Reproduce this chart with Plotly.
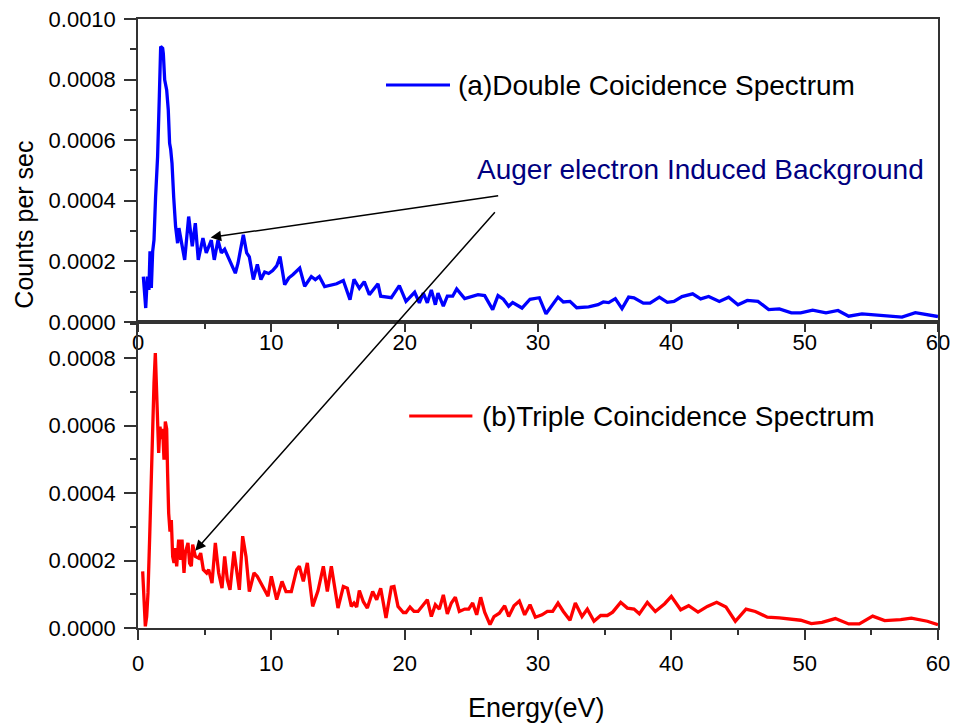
import plotly.graph_objects as go

# ---- data ----
energy_double = [0.40, 0.58, 0.70, 0.82, 0.90, 1.00, 1.10, 1.20, 1.32, 1.47, 1.60, 1.70, 1.85, 1.90,
                 2.00, 2.15, 2.27, 2.37, 2.45, 2.55, 2.68, 2.82, 2.97, 3.07, 3.17, 3.27, 3.50, 3.80,
                 3.92, 4.07, 4.30, 4.52, 4.87, 5.12, 5.50, 5.72, 6.00, 6.25, 6.50, 7.00, 7.30, 7.50,
                 7.90, 8.15, 8.35, 8.65, 8.95, 9.22, 9.50, 9.80, 10.10, 10.40, 10.65, 11.00, 11.30,
                 11.63, 12.13, 12.50, 13.00, 13.30, 13.60, 14.00, 14.30, 14.60, 14.90, 15.40, 15.90,
                 16.20, 16.60, 16.97, 17.35, 18.00, 18.20, 19.00, 19.60, 20.10, 20.75, 21.10, 21.40,
                 21.70, 22.00, 22.30, 22.50, 22.90, 23.20, 23.60, 23.90, 24.50, 25.50, 26.00, 26.60,
                 27.00, 27.40, 27.80, 28.10, 28.80, 29.40, 30.10, 30.60, 31.50, 31.90, 32.40, 32.90,
                 33.80, 34.50, 34.90, 35.30, 35.80, 36.30, 36.80, 37.20, 37.90, 38.40, 39.10, 39.70,
                 40.20, 40.80, 41.60, 42.20, 42.80, 43.60, 44.30, 45.00, 45.70, 46.50, 47.30, 48.10,
                 49.00, 49.70, 50.60, 51.60, 52.50, 53.30, 54.30, 56.10, 57.30, 58.30, 59.80, 60.00]
counts_double = [0.000150, 0.000046, 0.000150, 0.000106, 0.000233, 0.000112, 0.000233, 0.000271,
                 0.000414, 0.000546, 0.000744, 0.000909, 0.000903, 0.000886, 0.000799, 0.000766,
                 0.000700, 0.000590, 0.000570, 0.000524, 0.000410, 0.000315, 0.000260, 0.000310,
                 0.000285, 0.000260, 0.000205, 0.000348, 0.000305, 0.000250, 0.000326, 0.000205,
                 0.000277, 0.000228, 0.000270, 0.000205, 0.000270, 0.000228, 0.000240, 0.000194,
                 0.000161, 0.000194, 0.000288, 0.000228, 0.000215, 0.000140, 0.000190, 0.000140,
                 0.000165, 0.000160, 0.000170, 0.000185, 0.000216, 0.000123, 0.000145, 0.000157,
                 0.000178, 0.000118, 0.000150, 0.000140, 0.000150, 0.000117, 0.000120, 0.000122,
                 0.000126, 0.000137, 0.0000735, 0.000141, 0.000111, 0.000133, 0.000090, 0.000126,
                 0.000085, 0.000080, 0.000120, 0.000068, 0.000098, 0.000063, 0.000095, 0.000063,
                 0.000106, 0.000057, 0.000095, 0.000052, 0.000085, 0.000085, 0.000109, 0.000077,
                 0.000090, 0.000087, 0.000041, 0.000087, 0.000075, 0.000052, 0.000064, 0.000046,
                 0.000075, 0.000080, 0.000027, 0.000082, 0.000066, 0.000068, 0.000047, 0.000050,
                 0.000057, 0.000066, 0.000064, 0.000077, 0.000044, 0.000082, 0.000080, 0.000062,
                 0.000062, 0.000082, 0.000065, 0.000068, 0.000084, 0.000093, 0.000076, 0.000084,
                 0.000068, 0.000082, 0.000057, 0.000071, 0.000068, 0.000041, 0.000043, 0.000030,
                 0.000030, 0.000039, 0.000030, 0.000038, 0.000019, 0.000027, 0.000020, 0.000016,
                 0.000031, 0.000020, 0.000018]

energy_triple = [0.35, 0.40, 0.55, 0.65, 0.75, 0.87, 0.97, 1.10, 1.20, 1.30, 1.40, 1.45, 1.55, 1.65,
                 1.75, 1.85, 1.95, 2.05, 2.15, 2.22, 2.30, 2.40, 2.50, 2.60, 2.70, 2.80, 2.90, 3.05,
                 3.20, 3.30, 3.45, 3.55, 3.75, 3.87, 4.00, 4.10, 4.30, 4.55, 4.70, 4.90, 5.15, 5.30,
                 5.55, 5.80, 6.05, 6.30, 6.50, 6.70, 6.90, 7.20, 7.45, 7.60, 7.85, 8.10, 8.35, 8.70,
                 8.95, 9.35, 9.75, 10.00, 10.40, 10.80, 11.10, 11.50, 11.90, 12.10, 12.40, 12.70,
                 13.10, 13.50, 13.90, 14.20, 14.50, 15.00, 15.40, 15.70, 16.00, 16.20, 16.40, 16.60,
                 16.90, 17.20, 17.60, 17.90, 18.20, 18.60, 19.00, 19.20, 19.50, 19.90, 20.10, 20.40,
                 20.70, 21.00, 21.40, 21.70, 22.00, 22.30, 22.60, 22.90, 23.20, 23.50, 23.80, 24.10,
                 24.50, 24.80, 25.10, 25.40, 25.70, 26.00, 26.40, 26.70, 27.10, 27.50, 27.80, 28.20,
                 28.60, 29.00, 29.40, 29.80, 30.30, 30.70, 31.10, 31.50, 31.90, 32.40, 32.80, 33.30,
                 33.70, 34.20, 34.70, 35.20, 35.60, 36.20, 36.70, 37.20, 37.60, 38.20, 38.80, 39.50,
                 40.00, 40.70, 41.30, 42.00, 42.70, 43.40, 44.10, 44.80, 45.60, 46.30, 47.20, 48.10,
                 49.70, 50.50, 51.30, 52.30, 53.30, 54.10, 55.10, 56.00, 57.20, 58.00, 59.20, 60.00]
counts_triple = [0.000168, 0.000133, 0.000005, 0.000034, 0.000104, 0.000262, 0.000430, 0.000607,
                 0.000726, 0.000815, 0.000706, 0.000627, 0.000519, 0.000597, 0.000560, 0.000590,
                 0.000499, 0.000612, 0.000590, 0.000459, 0.000340, 0.000286, 0.000320, 0.000212,
                 0.000193, 0.000237, 0.000183, 0.000262, 0.000202, 0.000262, 0.000163, 0.000222,
                 0.000252, 0.000192, 0.000183, 0.000247, 0.000212, 0.000207, 0.000222, 0.000173,
                 0.000163, 0.000173, 0.000133, 0.000252, 0.000163, 0.000118, 0.000212, 0.000143,
                 0.000113, 0.000227, 0.000143, 0.000113, 0.000272, 0.000212, 0.000108, 0.000163,
                 0.000153, 0.000123, 0.000094, 0.000153, 0.000084, 0.000138, 0.000108, 0.000108,
                 0.000173, 0.000183, 0.000138, 0.000193, 0.000064, 0.000110, 0.000183, 0.000108,
                 0.000183, 0.000059, 0.000123, 0.000118, 0.000064, 0.000074, 0.000062, 0.000111,
                 0.000078, 0.000059, 0.000108, 0.000084, 0.000118, 0.000030, 0.000121, 0.000123,
                 0.000064, 0.000046, 0.000046, 0.000062, 0.000049, 0.000049, 0.000069, 0.000084,
                 0.000034, 0.000069, 0.000056, 0.000098, 0.000042, 0.000074, 0.000091, 0.000049,
                 0.000056, 0.000056, 0.000074, 0.000039, 0.000091, 0.000047, 0.000010, 0.000034,
                 0.000044, 0.000066, 0.000034, 0.000066, 0.000080, 0.000039, 0.000069, 0.000032,
                 0.000039, 0.000049, 0.000049, 0.000074, 0.000049, 0.000023, 0.000074, 0.000034,
                 0.000056, 0.000020, 0.000037, 0.000037, 0.000047, 0.000076, 0.000059, 0.000056,
                 0.000042, 0.000076, 0.000049, 0.000072, 0.000094, 0.000054, 0.000066, 0.000047,
                 0.000064, 0.000076, 0.000062, 0.000020, 0.000056, 0.000049, 0.000032, 0.000030,
                 0.000023, 0.000013, 0.000017, 0.000028, 0.000012, 0.000012, 0.000035, 0.000022,
                 0.000025, 0.000029, 0.000020, 0.000010]

label_double = "(a)Double Coicidence Spectrum"
label_triple = "(b)Triple Coincidence Spectrum"
note_text = "Auger electron Induced Background"
x_title = "Energy(eV)"
y_title = "Counts per sec"

FONT = "Liberation Sans, Arial, Helvetica, sans-serif"
AX = "#333333"
SPLIT = 0.5025

fig = go.Figure()
fig.add_trace(go.Scatter(x=energy_double, y=counts_double, mode="lines",
                         line=dict(color="#0000FF", width=3.3), xaxis="x", yaxis="y",
                         name=label_double, showlegend=False))
fig.add_trace(go.Scatter(x=energy_triple, y=counts_triple, mode="lines",
                         line=dict(color="#FF0000", width=3.3), xaxis="x2", yaxis="y2",
                         name=label_triple, showlegend=False))

tickfont = dict(size=22, color="black", family=FONT)

def xax(**kw):
    d = dict(range=[0, 60], dtick=10, tick0=0, showline=True, linecolor=AX, linewidth=1.5,
             ticks="outside", ticklen=8, tickwidth=1.5, tickcolor=AX, showgrid=False,
             zeroline=False, tickfont=tickfont, automargin=False,
             minor=dict(dtick=5, ticks="outside", ticklen=5, tickwidth=1.5, tickcolor=AX, showgrid=False))
    d.update(kw)
    return d

def yax(rng, **kw):
    d = dict(range=rng, dtick=0.0002, tick0=0, tickformat=".4f", showline=True, linecolor=AX,
             linewidth=1.5, ticks="outside", ticklen=12, tickwidth=1.5, tickcolor=AX,
             showgrid=False, zeroline=False, tickfont=tickfont, ticklabelstandoff=4, automargin=False,
             minor=dict(dtick=0.0001, ticks="outside", ticklen=6, tickwidth=1.5, tickcolor=AX, showgrid=False))
    d.update(kw)
    return d

top_range = [0, 0.001]
bot_range = [0, 0.000907]

fig.update_layout(
    width=953, height=726,
    margin=dict(l=138, r=15, t=19, b=98, autoexpand=False),
    paper_bgcolor="white", plot_bgcolor="white",
    font=dict(family=FONT, color="black"),
    xaxis=xax(domain=[0, 1], anchor="y", mirror=True, ticklabelstandoff=-8),
    yaxis=yax(top_range, domain=[SPLIT, 1], anchor="x", mirror=True),
    xaxis2=xax(domain=[0, 1], anchor="y2", mirror=True, ticklen=10, ticklabelstandoff=5),
    yaxis2=yax(bot_range, domain=[0, SPLIT], anchor="x2", mirror=True),
    # inward ticks on top and right edges
    xaxis3=dict(overlaying="x", side="top", anchor="y", range=[0, 60], dtick=5, tick0=0,
                ticks="inside", ticklen=7, tickwidth=1.5, tickcolor=AX, showticklabels=False,
                showline=False, showgrid=False, zeroline=False, automargin=False),
    yaxis3=dict(overlaying="y", side="right", anchor="x", range=top_range, dtick=0.0002, tick0=0,
                ticks="inside", ticklen=12, tickwidth=1.5, tickcolor=AX, showticklabels=False,
                showline=False, showgrid=False, zeroline=False, automargin=False,
                minor=dict(dtick=0.0001, ticks="inside", ticklen=6, tickwidth=1.5, tickcolor=AX)),
    yaxis4=dict(overlaying="y2", side="right", anchor="x2", range=bot_range, dtick=0.0002, tick0=0,
                ticks="inside", ticklen=12, tickwidth=1.5, tickcolor=AX, showticklabels=False,
                showline=False, showgrid=False, zeroline=False, automargin=False,
                minor=dict(dtick=0.0001, ticks="inside", ticklen=6, tickwidth=1.5, tickcolor=AX)),
)

shapes = [
    dict(type="line", xref="paper", yref="paper", x0=0.31, x1=0.39, y0=0.8916, y1=0.8916,
         line=dict(color="#0000FF", width=3)),
    dict(type="line", xref="paper", yref="paper", x0=0.339, x1=0.418, y0=0.348, y1=0.348,
         line=dict(color="#FF0000", width=3)),
]
fig.update_layout(shapes=shapes)

annotations = [
    dict(text=label_double, xref="paper", yref="paper", x=0.398, y=0.8916, xanchor="left",
         yanchor="middle", showarrow=False, font=dict(size=28, color="black", family=FONT)),
    dict(text=label_triple, xref="paper", yref="paper", x=0.428, y=0.348, xanchor="left",
         yanchor="middle", showarrow=False, font=dict(size=28, color="black", family=FONT)),
    dict(text=note_text, xref="x", yref="y", x=25.3, y=0.000502, xanchor="left",
         yanchor="middle", showarrow=False, font=dict(size=28, color="#000080", family=FONT)),
    dict(text="", xref="x", yref="y", x=5.45, y=0.000279, ax=289, ay=-42, axref="pixel", ayref="pixel",
         showarrow=True, arrowhead=2, arrowsize=1.4, arrowwidth=1.5, arrowcolor="black",
         standoff=0, startstandoff=0),
    dict(text="", xref="x2", yref="y2", x=4.29, y=0.000229, ax=301, ay=-340, axref="pixel", ayref="pixel",
         showarrow=True, arrowhead=2, arrowsize=1.4, arrowwidth=1.5, arrowcolor="black",
         standoff=0, startstandoff=0),
    dict(text=y_title, xref="paper", yref="paper", x=-0.142, y=0.663, textangle=-90,
         xanchor="center", yanchor="middle", showarrow=False,
         font=dict(size=25, color="black", family=FONT)),
    dict(text=x_title, xref="paper", yref="paper", x=0.4975, y=-0.131, xanchor="center",
         yanchor="middle", showarrow=False, font=dict(size=27, color="black", family=FONT)),
]
fig.update_layout(annotations=annotations)

fig.write_html("out.html")
